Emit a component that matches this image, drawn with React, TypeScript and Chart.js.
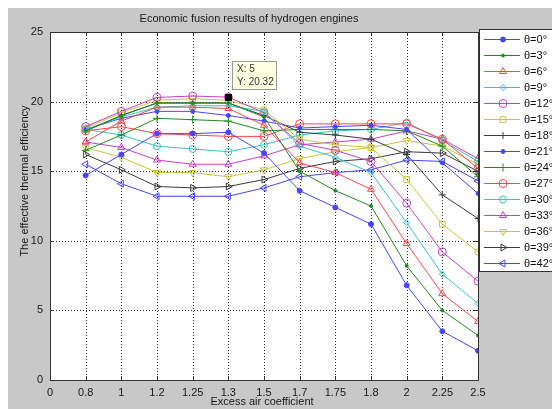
import React, { useEffect, useRef } from "react";
import { Chart, registerables } from "chart.js";
import { drawPoint } from "chart.js/helpers";
Chart.register(...registerables);

const TITLE = "Economic fusion results of hydrogen engines";
const X_TITLE = "Excess air coefficient";
const Y_TITLE = "The effective thermal efficiency";

const X_LABELS = ["0", "0.8", "1", "1.2", "1.25", "1.3", "1.5", "1.7", "1.75", "1.8", "2", "2.25", "2.5"];
const Y_TICKS = [0, 5, 10, 15, 20, 25];

const THETA_LABELS = ["θ=0°", "θ=3°", "θ=6°", "θ=9°", "θ=12°", "θ=15°", "θ=18°", "θ=21°", "θ=24°", "θ=27°", "θ=30°", "θ=33°", "θ=36°", "θ=39°", "θ=42°"];

// values at x-index 1..12 (0.8 ... 2.5)
const T0 = [14.7, 16.2, 17.7, 17.7, 17.8, 16.3, 13.6, 12.4, 11.2, 6.8, 3.5, 2.1];
const T3 = [17.9, 19.0, 19.9, 19.9, 19.9, 18.9, 15.0, 13.6, 12.5, 8.2, 5.0, 3.2];
const T6 = [17.1, 18.6, 19.6, 19.6, 19.5, 18.3, 15.6, 14.9, 13.7, 9.8, 6.2, 4.2];
const T9 = [18.0, 18.9, 19.6, 19.7, 19.7, 19.3, 16.8, 16.0, 14.9, 11.3, 7.6, 5.5];
const T12 = [18.2, 19.3, 20.3, 20.4, 20.32, 19.2, 17.0, 16.5, 15.7, 12.7, 9.2, 7.1];
const T15 = [18.1, 19.2, 20.1, 20.2, 20.1, 19.4, 17.3, 16.9, 16.7, 14.4, 11.2, 9.2];
const T18 = [17.9, 19.0, 19.9, 19.9, 19.9, 19.0, 17.8, 17.6, 17.3, 16.2, 13.3, 11.6];
const T21 = [18.0, 18.8, 19.3, 19.3, 19.0, 18.6, 18.1, 18.2, 18.3, 18.0, 15.6, 13.4];
const T24 = [16.5, 17.6, 18.8, 18.7, 18.6, 17.9, 18.0, 18.0, 18.0, 17.9, 16.8, 14.6];
const T27 = [17.9, 18.2, 17.7, 17.6, 17.5, 17.5, 18.4, 18.4, 18.4, 18.4, 17.3, 15.2];
const T30 = [18.0, 17.6, 16.8, 16.6, 16.4, 16.9, 17.6, 17.9, 18.0, 18.5, 17.2, 15.7];
const T33 = [17.1, 16.7, 15.8, 15.5, 15.5, 16.1, 16.9, 17.1, 17.3, 17.9, 17.3, 15.9];
const T36 = [16.7, 16.0, 14.9, 14.9, 14.6, 15.1, 15.9, 16.4, 16.7, 17.2, 16.8, 15.5];
const T39 = [16.2, 15.1, 13.9, 13.8, 13.9, 14.4, 15.2, 15.7, 15.9, 16.4, 16.3, 15.0];
const T42 = [15.5, 14.1, 13.2, 13.2, 13.2, 13.8, 14.6, 14.9, 15.1, 15.8, 15.7, 14.3];

const SERIES = [T0, T3, T6, T9, T12, T15, T18, T21, T24, T27, T30, T33, T36, T39, T42];

const DATATIP_X = 5;
const DATATIP_Y = 20.32;

const BLUE = "#4646ff";
const GREEN = "#1f8a1f";
const RED = "#ff4646";
const CYAN = "#33c6c6";
const MAGENTA = "#c640c6";
const YELLOW = "#c6c63a";
const BLACK = "#3c3c3c";

type Style = { color: string; pointStyle: string; radius: number; filled?: boolean; rotation?: number };
const STYLES: Style[] = [
  { color: BLUE, pointStyle: "circle", radius: 2.5, filled: true },
  { color: GREEN, pointStyle: "circle", radius: 1.5, filled: true },
  { color: RED, pointStyle: "triangle", radius: 4 },
  { color: CYAN, pointStyle: "rectRot", radius: 3 },
  { color: MAGENTA, pointStyle: "circle", radius: 4 },
  { color: YELLOW, pointStyle: "rect", radius: 4 },
  { color: BLACK, pointStyle: "cross", radius: 3.5 },
  { color: BLUE, pointStyle: "circle", radius: 2, filled: true },
  { color: GREEN, pointStyle: "cross", radius: 4 },
  { color: RED, pointStyle: "circle", radius: 4 },
  { color: CYAN, pointStyle: "circle", radius: 3.5 },
  { color: MAGENTA, pointStyle: "triangle", radius: 4 },
  { color: YELLOW, pointStyle: "triangle", radius: 4, rotation: 180 },
  { color: BLACK, pointStyle: "triangle", radius: 4, rotation: 90 },
  { color: BLUE, pointStyle: "triangle", radius: 4, rotation: 270 },
];

const FONT = "'Liberation Sans', Arial, sans-serif";

const figurePlugin = {
  id: "matlabFigure",
  beforeDraw(chart: any) {
    const { ctx, width, height, chartArea: a } = chart;
    const xs = chart.scales.x;
    const ys = chart.scales.y;
    ctx.save();
    ctx.fillStyle = "#c8c8c8";
    ctx.fillRect(0, 0, width, height);
    ctx.fillStyle = "#ffffff";
    ctx.fillRect(a.left, a.top, a.right - a.left, a.bottom - a.top);
    ctx.strokeStyle = "#2a2a2a";
    ctx.lineWidth = 1;
    ctx.setLineDash([1, 2]);
    xs.ticks.forEach((t: any) => {
      if (t.value <= xs.min || t.value >= xs.max) return;
      const px = Math.round(xs.getPixelForValue(t.value)) + 0.5;
      ctx.beginPath();
      ctx.moveTo(px, a.top);
      ctx.lineTo(px, a.bottom);
      ctx.stroke();
    });
    ys.ticks.forEach((t: any) => {
      if (t.value <= ys.min || t.value >= ys.max) return;
      const py = Math.round(ys.getPixelForValue(t.value)) + 0.5;
      ctx.beginPath();
      ctx.moveTo(a.left, py);
      ctx.lineTo(a.right, py);
      ctx.stroke();
    });
    ctx.restore();
  },
  afterDraw(chart: any) {
    const { ctx, chartArea: a } = chart;
    const xs = chart.scales.x;
    const ys = chart.scales.y;
    ctx.save();
    // box
    ctx.setLineDash([]);
    ctx.strokeStyle = "#333";
    ctx.lineWidth = 1;
    ctx.strokeRect(Math.round(a.left) + 0.5, Math.round(a.top) + 0.5, Math.round(a.right - a.left), Math.round(a.bottom - a.top));
    // inward ticks
    ctx.beginPath();
    xs.ticks.forEach((t: any) => {
      const px = Math.round(xs.getPixelForValue(t.value)) + 0.5;
      ctx.moveTo(px, a.bottom);
      ctx.lineTo(px, a.bottom - 4);
      ctx.moveTo(px, a.top);
      ctx.lineTo(px, a.top + 4);
    });
    ys.ticks.forEach((t: any) => {
      const py = Math.round(ys.getPixelForValue(t.value)) + 0.5;
      ctx.moveTo(a.left, py);
      ctx.lineTo(a.left + 4, py);
      ctx.moveTo(a.right, py);
      ctx.lineTo(a.right - 4, py);
    });
    ctx.stroke();

    // titles
    ctx.fillStyle = "#1a1a1a";
    ctx.font = `11px ${FONT}`;
    ctx.textAlign = "center";
    ctx.textBaseline = "middle";
    ctx.fillText(TITLE, 241, 11);
    ctx.fillText(X_TITLE, (a.left + a.right) / 2 - 2, 394);
    ctx.save();
    ctx.translate(17, 173);
    ctx.rotate(-Math.PI / 2);
    ctx.fillText(Y_TITLE, 0, 0);
    ctx.restore();

    // datatip
    const dx = xs.getPixelForValue(DATATIP_X);
    const dy = ys.getPixelForValue(DATATIP_Y);
    ctx.fillStyle = "#000";
    ctx.fillRect(Math.round(dx) - 3, Math.round(dy) - 3, 7, 7);
    const bx = Math.round(dx) + 4;
    const by = Math.round(dy) - 36;
    ctx.fillStyle = "#ffffe1";
    ctx.fillRect(bx, by, 44, 28);
    ctx.strokeStyle = "#9a9a9a";
    ctx.strokeRect(bx + 0.5, by + 0.5, 44, 28);
    ctx.fillStyle = "#333";
    ctx.font = `10px ${FONT}`;
    ctx.textAlign = "left";
    ctx.fillText(`X: ${DATATIP_X}`, bx + 5, by + 8);
    ctx.fillText(`Y: ${DATATIP_Y}`, bx + 5, by + 21);

    // legend
    const lx = Math.round(a.right) + 1;
    const ly = 21;
    const rowH = 16;
    ctx.fillStyle = "#ffffff";
    ctx.fillRect(lx, ly, 100, rowH * THETA_LABELS.length + 2);
    ctx.strokeStyle = "#333";
    ctx.strokeRect(lx + 0.5, ly + 0.5, 100, rowH * THETA_LABELS.length + 2);
    chart.data.datasets.forEach((ds: any, i: number) => {
      const y = Math.round(ly + 10 + i * rowH) + 0.5;
      const st = STYLES[i];
      ctx.strokeStyle = st.color;
      ctx.lineWidth = 1;
      ctx.beginPath();
      ctx.moveTo(lx + 5, y);
      ctx.lineTo(lx + 41, y);
      ctx.stroke();
      ctx.fillStyle = st.filled ? st.color : "rgba(0,0,0,0)";
      drawPoint(ctx, { pointStyle: st.pointStyle as any, rotation: st.rotation || 0, radius: st.radius, borderWidth: 1 }, lx + 24, y);
      ctx.fillStyle = "#111";
      ctx.font = `11px ${FONT}`;
      ctx.textAlign = "left";
      ctx.textBaseline = "middle";
      ctx.fillText(ds.label, lx + 45, y);
    });
    ctx.restore();
  },
};

export default function App() {
  const ref = useRef<HTMLCanvasElement>(null);
  useEffect(() => {
    const datasets = SERIES.map((vals, i) => {
      const st = STYLES[i];
      return {
        label: THETA_LABELS[i],
        data: vals.map((y, k) => ({ x: k + 1, y })),
        borderColor: st.color,
        backgroundColor: st.color,
        borderWidth: 1,
        pointStyle: st.pointStyle,
        pointRadius: st.radius,
        pointRotation: st.rotation || 0,
        pointBorderColor: st.color,
        pointBackgroundColor: st.filled ? st.color : "rgba(0,0,0,0)",
        pointBorderWidth: 1,
        tension: 0,
        fill: false,
      };
    });
    const chart = new Chart(ref.current as HTMLCanvasElement, {
      type: "line",
      data: { datasets } as any,
      options: {
        responsive: false,
        devicePixelRatio: 1,
        animation: false,
        layout: { padding: { top: 24, right: 74, bottom: 0, left: 0 } },
        plugins: { legend: { display: false }, tooltip: { enabled: false }, title: { display: false } },
        scales: {
          x: {
            type: "linear",
            min: 0,
            max: X_LABELS.length - 1,
            grid: { display: false, drawTicks: false },
            border: { display: false },
            afterFit: (s: any) => { s.height = 29; },
            ticks: {
              stepSize: 1,
              autoSkip: false,
              maxRotation: 0,
              padding: 6,
              color: "#1a1a1a",
              font: { family: FONT, size: 11 },
              callback: (v: any) => X_LABELS[v] ?? "",
            },
          },
          y: {
            type: "linear",
            min: Y_TICKS[0],
            max: Y_TICKS[Y_TICKS.length - 1],
            grid: { display: false, drawTicks: false },
            border: { display: false },
            afterFit: (s: any) => { s.width = 42; },
            ticks: {
              stepSize: Y_TICKS[1] - Y_TICKS[0],
              padding: 7,
              color: "#1a1a1a",
              font: { family: FONT, size: 11 },
            },
          },
        },
      } as any,
      plugins: [figurePlugin],
    });
    return () => chart.destroy();
  }, []);
  return (
    <>
      <style>{"html,body{overflow:hidden}body{margin:8px 0 0 8px}"}</style>
      <canvas ref={ref} width={544} height={401} style={{ display: "block", width: 544, height: 401 }} />
    </>
  );
}
